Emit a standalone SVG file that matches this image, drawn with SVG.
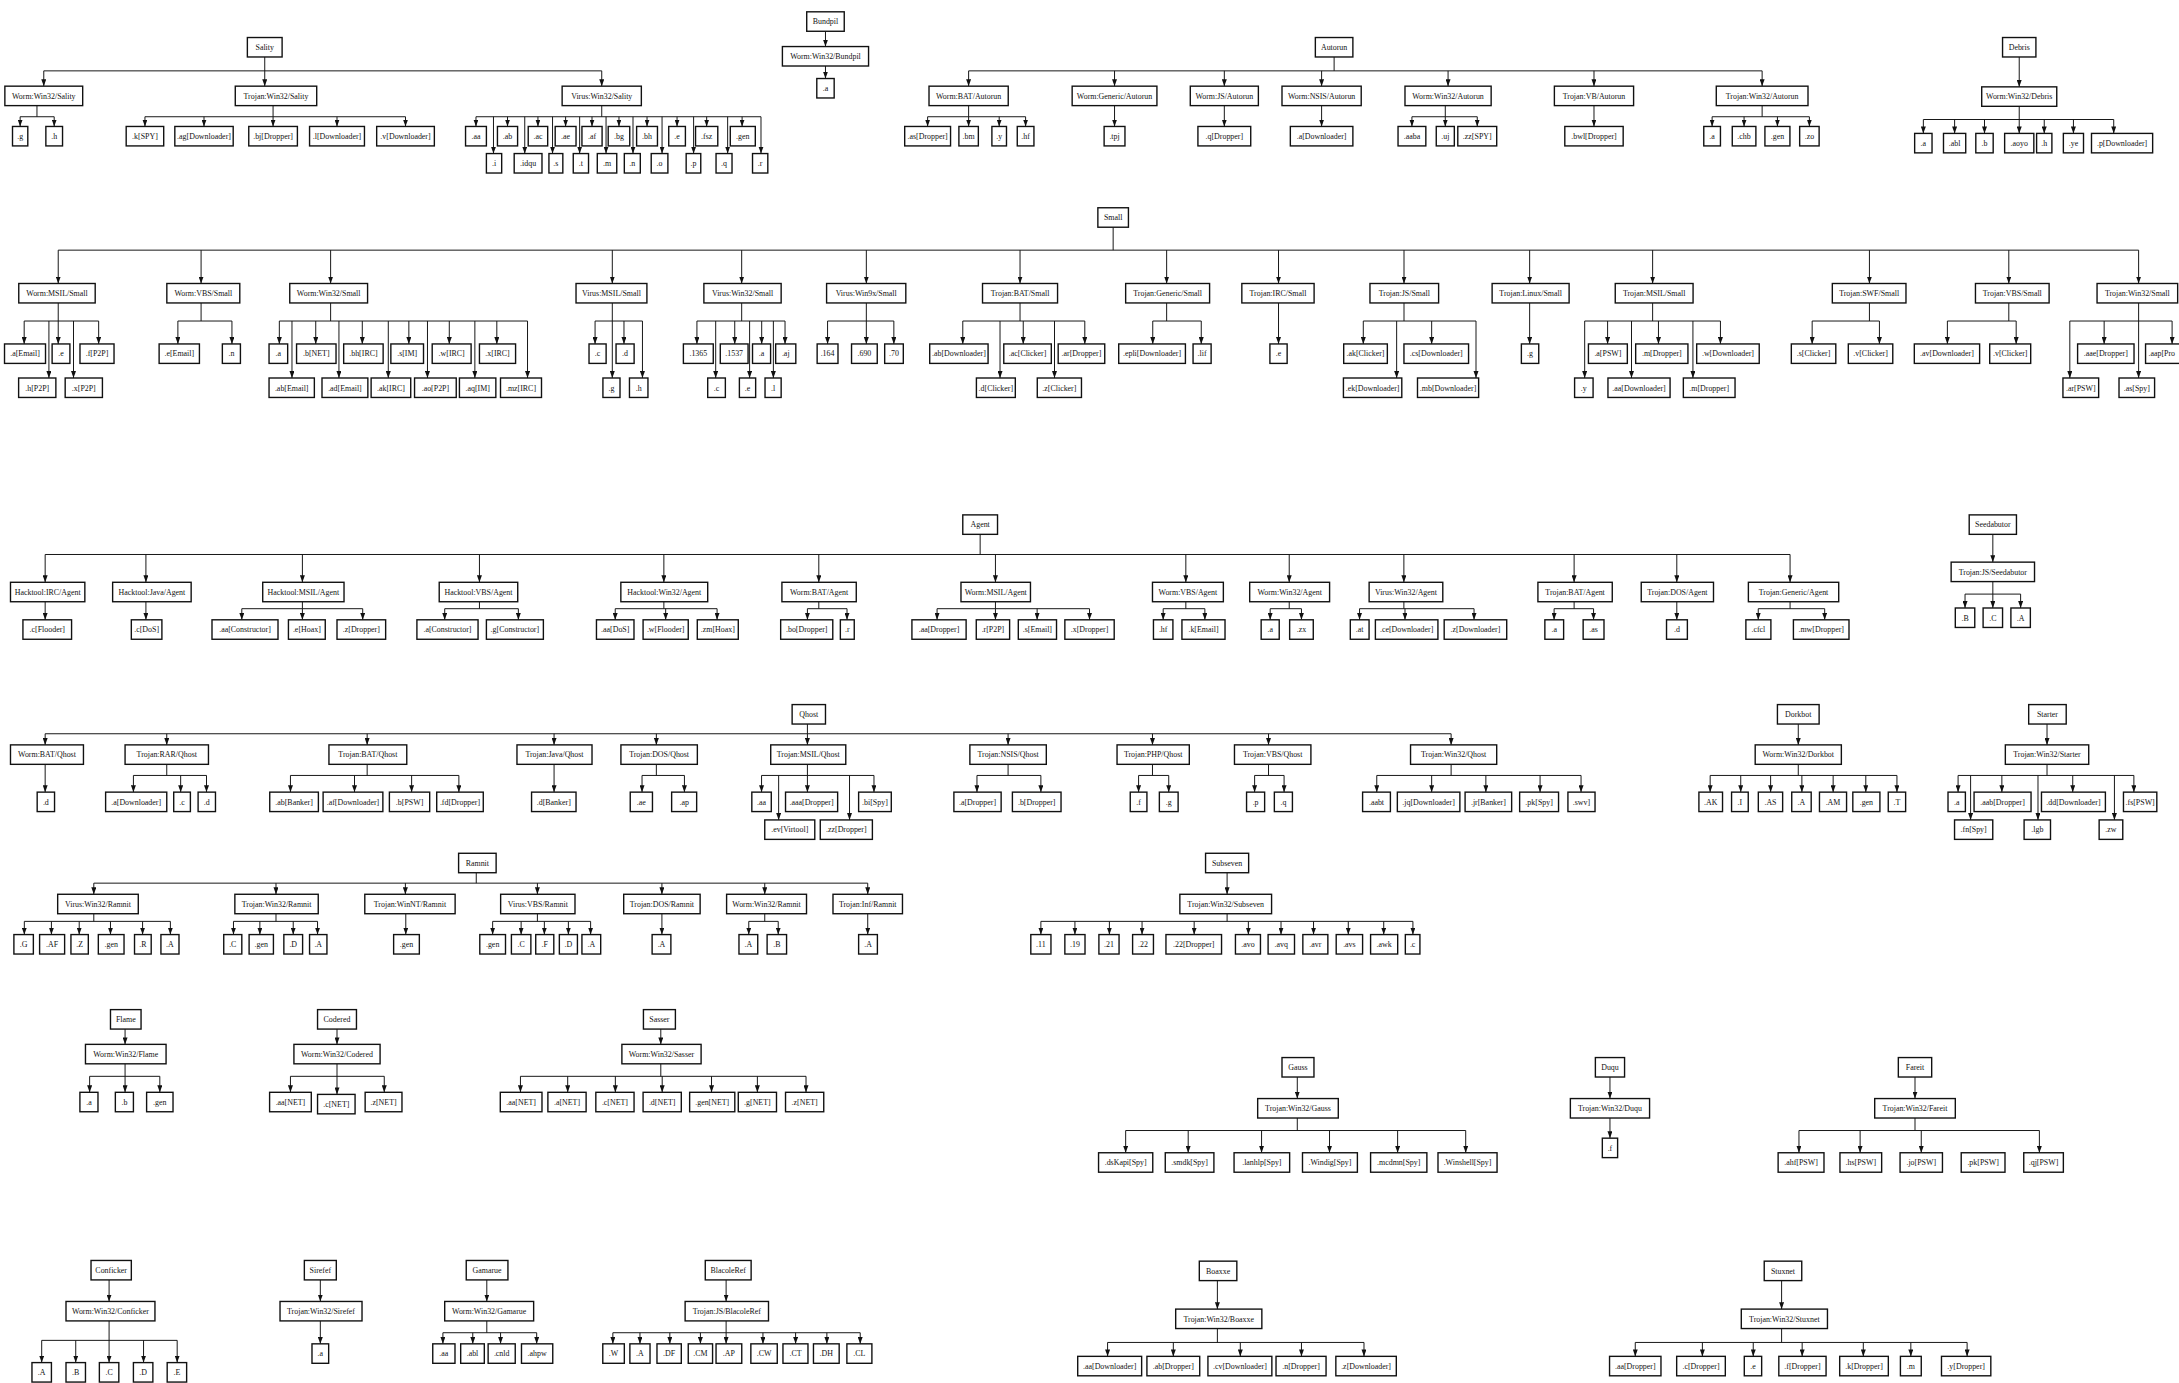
<svg xmlns="http://www.w3.org/2000/svg" width="2179" height="1383" viewBox="0 0 2179 1383">
<defs>
<marker id="ah" viewBox="0 0 10 7.2" refX="10" refY="3.6" markerWidth="5" markerHeight="3.6" orient="auto" markerUnits="userSpaceOnUse"><path d="M0,0L10,3.6L0,7.2z" fill="#111"/></marker>
<style>
.n rect{fill:#fff;stroke:#111;stroke-width:1}
.n text{font-family:"Liberation Serif","DejaVu Serif",serif;font-size:5.7px;fill:#111;text-anchor:middle}
#connectors path{fill:none;stroke:#111;stroke-width:0.7}
#connectors path.a{marker-end:url(#ah)}
</style>
</defs>
<rect width="2179" height="1383" fill="#fff"/>
<g transform="scale(1.3897)">
<g id="connectors">
<!-- Sality -->
<path d="M31.5,51H433"/><path class="a" d="M190.5,41V62"/><path class="a" d="M31.5,51V62"/><path class="a" d="M433,51V62"/>
<path d="M26.6,76V84M14.5,84H39"/><path class="a" d="M14.5,84V91"/><path class="a" d="M39,84V91"/>
<path d="M104.3,84H291.8"/><path class="a" d="M196.5,76V91"/><path class="a" d="M104.3,84V91"/><path class="a" d="M146.8,84V91"/><path class="a" d="M242.5,84V91"/><path class="a" d="M291.8,84V91"/>
<path d="M433,76V84M342.5,84H547.6"/>
<path class="a" d="M342.5,84V91"/><path class="a" d="M365.2,84V91"/><path class="a" d="M387.1,84V91"/><path class="a" d="M407,84V91"/><path class="a" d="M426,84V91"/><path class="a" d="M445.4,84V91"/><path class="a" d="M465.6,84V91"/><path class="a" d="M487.2,84V91"/><path class="a" d="M508.5,84V91"/><path class="a" d="M534,84V91"/>
<path class="a" d="M355.1,84V110.5"/><path class="a" d="M377.6,84V110.5"/><path class="a" d="M397.6,84V110.5"/><path class="a" d="M417.1,84V110.5"/><path class="a" d="M436.1,84V110.5"/><path class="a" d="M455.5,84V110.5"/><path class="a" d="M476.4,84V110.5"/><path class="a" d="M499.1,84V110.5"/><path class="a" d="M523.6,84V110.5"/><path class="a" d="M547.6,84V110.5"/>
<!-- Bundpil -->
<path class="a" d="M594,22.5V33.5"/><path class="a" d="M594,47.5V56.5"/>
<!-- Autorun -->
<path d="M960,41V51M697,51H1268"/>
<path class="a" d="M697,51V62"/><path class="a" d="M802,51V62"/><path class="a" d="M881,51V62"/><path class="a" d="M951,51V62"/><path class="a" d="M1042,51V62"/><path class="a" d="M1147,51V62"/><path class="a" d="M1268,51V62"/>
<path d="M697,76V84M667.5,84H738"/><path class="a" d="M667.5,84V91"/><path class="a" d="M697,84V91"/><path class="a" d="M719,84V91"/><path class="a" d="M738,84V91"/>
<path class="a" d="M802,76V91"/><path class="a" d="M881,76V91"/><path class="a" d="M951,76V91"/>
<path d="M1040,76V84M1016,84H1063"/><path class="a" d="M1016,84V91"/><path class="a" d="M1040,84V91"/><path class="a" d="M1063,84V91"/>
<path class="a" d="M1147,76V91"/>
<path d="M1268,76V84M1232,84H1302"/><path class="a" d="M1232,84V91"/><path class="a" d="M1255,84V91"/><path class="a" d="M1279,84V91"/><path class="a" d="M1302,84V91"/>
<!-- Debris -->
<path class="a" d="M1453,41V62.5"/>
<path d="M1453,76.5V86M1384,86H1521"/><path class="a" d="M1384,86V96"/><path class="a" d="M1406.5,86V96"/><path class="a" d="M1428,86V96"/><path class="a" d="M1453,86V96"/><path class="a" d="M1471,86V96"/><path class="a" d="M1492,86V96"/><path class="a" d="M1521,86V96"/>
<!-- Small -->
<path d="M801,163.5V180M41.9,180H1538.9"/>
<path class="a" d="M41.9,180V204"/><path class="a" d="M144.7,180V204"/><path class="a" d="M237.9,180V204"/><path class="a" d="M440.6,180V204"/><path class="a" d="M533.7,180V204"/><path class="a" d="M623.4,180V204"/><path class="a" d="M734,180V204"/><path class="a" d="M839.5,180V204"/><path class="a" d="M920,180V204"/><path class="a" d="M1010.3,180V204"/><path class="a" d="M1100.7,180V204"/><path class="a" d="M1189.2,180V204"/><path class="a" d="M1345.2,180V204"/><path class="a" d="M1445.5,180V204"/><path class="a" d="M1538.9,180V204"/>
<path d="M41.9,218V231M17.4,231H71"/><path class="a" d="M17.4,231V247.5"/><path class="a" d="M41.9,231V247.5"/><path class="a" d="M71,231V247.5"/><path class="a" d="M35.2,231V272"/><path class="a" d="M52.9,231V272"/>
<path d="M144.7,218V231M128,231H166.9"/><path class="a" d="M128,231V247.5"/><path class="a" d="M166.9,231V247.5"/>
<path d="M237.9,218V231M201,231H379.6"/><path class="a" d="M201,231V247.5"/><path class="a" d="M227.2,231V247.5"/><path class="a" d="M260.7,231V247.5"/><path class="a" d="M294.2,231V247.5"/><path class="a" d="M323.3,231V247.5"/><path class="a" d="M357.5,231V247.5"/><path class="a" d="M210.1,231V272"/><path class="a" d="M243.9,231V272"/><path class="a" d="M279.4,231V272"/><path class="a" d="M307.6,231V272"/><path class="a" d="M341.7,231V272"/><path class="a" d="M379.6,231V272"/>
<path d="M440.6,218V231M428.2,231H462.3"/><path class="a" d="M428.2,231V247.5"/><path class="a" d="M449,231V247.5"/><path class="a" d="M440.6,231V272"/><path class="a" d="M462.3,231V272"/>
<path d="M533.7,218V231M501.5,231H564.9"/><path class="a" d="M501.5,231V247.5"/><path class="a" d="M528.7,231V247.5"/><path class="a" d="M548.1,231V247.5"/><path class="a" d="M564.9,231V247.5"/><path class="a" d="M515,231V272"/><path class="a" d="M539.4,231V272"/><path class="a" d="M556.5,231V272"/>
<path d="M623.4,218V231M595.5,231H643.2"/><path class="a" d="M595.5,231V247.5"/><path class="a" d="M623.4,231V247.5"/><path class="a" d="M643.2,231V247.5"/>
<path d="M734,218V231M692.8,231H780.6"/><path class="a" d="M692.8,231V247.5"/><path class="a" d="M736.3,231V247.5"/><path class="a" d="M780.6,231V247.5"/><path class="a" d="M719.6,231V272"/><path class="a" d="M758.8,231V272"/>
<path d="M839.5,218V231M829.5,231H864.4"/><path class="a" d="M829.5,231V247.5"/><path class="a" d="M864.4,231V247.5"/>
<path class="a" d="M920,218V247.5"/>
<path d="M1010.3,218V231M981,231H1062.1"/><path class="a" d="M981,231V247.5"/><path class="a" d="M1030.2,231V247.5"/><path class="a" d="M1005,231V272"/><path class="a" d="M1062.1,231V272"/>
<path class="a" d="M1100.7,218V247.5"/>
<path d="M1189.2,218V231M1140.3,231H1238"/><path class="a" d="M1156.8,231V247.5"/><path class="a" d="M1193.4,231V247.5"/><path class="a" d="M1238,231V247.5"/><path class="a" d="M1140.3,231V272"/><path class="a" d="M1174,231V272"/><path class="a" d="M1218.2,231V272"/>
<path d="M1345.2,218V231M1304,231H1352.4"/><path class="a" d="M1304,231V247.5"/><path class="a" d="M1352.4,231V247.5"/>
<path d="M1445.5,218V231M1401.3,231H1450.8"/><path class="a" d="M1401.3,231V247.5"/><path class="a" d="M1450.8,231V247.5"/>
<path d="M1538.9,218V231M1489.4,231H1563"/><path class="a" d="M1514.1,231V247.5"/><path class="a" d="M1563,231V247.5"/><path class="a" d="M1489.4,231V272"/><path class="a" d="M1538.9,231V272"/>
<!-- Agent -->
<path d="M705.3,384.5V399M32.5,399H1288.1"/>
<path class="a" d="M32.5,399V419"/><path class="a" d="M105,399V419"/><path class="a" d="M217.6,399V419"/><path class="a" d="M345,399V419"/><path class="a" d="M477.7,399V419"/><path class="a" d="M589.2,399V419"/><path class="a" d="M716.3,399V419"/><path class="a" d="M853.3,399V419"/><path class="a" d="M927.7,399V419"/><path class="a" d="M1010.2,399V419"/><path class="a" d="M1132.7,399V419"/><path class="a" d="M1206.6,399V419"/><path class="a" d="M1288.1,399V419"/>
<path class="a" d="M32.5,433V446"/><path class="a" d="M105,433V446"/>
<path d="M217.6,433V438M174,438H261"/><path class="a" d="M174,438V446"/><path class="a" d="M217.6,438V446"/><path class="a" d="M261,438V446"/>
<path d="M345,433V438M320,438H373"/><path class="a" d="M320,438V446"/><path class="a" d="M373,438V446"/>
<path d="M477.7,433V438M442.7,438H516"/><path class="a" d="M442.7,438V446"/><path class="a" d="M479,438V446"/><path class="a" d="M516,438V446"/>
<path d="M589.2,433V438M581,438H609.5"/><path class="a" d="M581,438V446"/><path class="a" d="M609.5,438V446"/>
<path d="M716.3,433V438M674.3,438H784"/><path class="a" d="M674.3,438V446"/><path class="a" d="M716.3,438V446"/><path class="a" d="M746.3,438V446"/><path class="a" d="M784,438V446"/>
<path d="M853.3,433V438M837,438H867"/><path class="a" d="M837,438V446"/><path class="a" d="M867,438V446"/>
<path d="M927.7,433V438M914,438H936.5"/><path class="a" d="M914,438V446"/><path class="a" d="M936.5,438V446"/>
<path d="M1010.2,433V438M978.3,438H1060.7"/><path class="a" d="M978.3,438V446"/><path class="a" d="M1011,438V446"/><path class="a" d="M1060.7,438V446"/>
<path d="M1132.7,433V438M1118.3,438H1146.7"/><path class="a" d="M1118.3,438V446"/><path class="a" d="M1146.7,438V446"/>
<path class="a" d="M1206.6,433V446"/>
<path d="M1288.1,433V438M1265.2,438H1313"/><path class="a" d="M1265.2,438V446"/><path class="a" d="M1313,438V446"/>
<!-- Seedabutor -->
<path class="a" d="M1434,384.5V404.5"/>
<path d="M1434,418.5V427.5M1414,427.5H1454"/><path class="a" d="M1414,427.5V437.5"/><path class="a" d="M1434,427.5V437.5"/><path class="a" d="M1454,427.5V437.5"/>
<!-- Qhost -->
<path d="M581,521V528M32.5,528H1044.2"/>
<path class="a" d="M32.5,528V536"/><path class="a" d="M120,528V536"/><path class="a" d="M264.2,528V536"/><path class="a" d="M398.7,528V536"/><path class="a" d="M472.3,528V536"/><path class="a" d="M581,528V536"/><path class="a" d="M725.4,528V536"/><path class="a" d="M829.3,528V536"/><path class="a" d="M912.8,528V536"/><path class="a" d="M1044.2,528V536"/>
<path class="a" d="M32.5,550V570"/>
<path d="M120,550V558M96,558H148.6"/><path class="a" d="M96,558V570"/><path class="a" d="M130,558V570"/><path class="a" d="M148.6,558V570"/>
<path d="M264.2,550V558M209,558H330.2"/><path class="a" d="M209,558V570"/><path class="a" d="M255.1,558V570"/><path class="a" d="M296.2,558V570"/><path class="a" d="M330.2,558V570"/>
<path class="a" d="M398.7,550V570"/>
<path d="M472.3,550V558M462,558H492.5"/><path class="a" d="M462,558V570"/><path class="a" d="M492.5,558V570"/>
<path d="M581,550V558M548,558H628.9"/><path class="a" d="M548,558V570"/><path class="a" d="M581,558V570"/><path class="a" d="M628.9,558V570"/><path class="a" d="M560.3,558V590"/><path class="a" d="M611.3,558V590"/>
<path d="M725.4,550V558M703,558H749"/><path class="a" d="M703,558V570"/><path class="a" d="M749,558V570"/>
<path d="M829.3,550V558M819.3,558H841"/><path class="a" d="M819.3,558V570"/><path class="a" d="M841,558V570"/>
<path d="M912.8,550V558M902.8,558H924"/><path class="a" d="M902.8,558V570"/><path class="a" d="M924,558V570"/>
<path d="M1044.2,550V558M990.7,558H1137.7"/><path class="a" d="M990.7,558V570"/><path class="a" d="M1030.2,558V570"/><path class="a" d="M1069.2,558V570"/><path class="a" d="M1108.2,558V570"/><path class="a" d="M1137.7,558V570"/>
<!-- Dorkbot -->
<path class="a" d="M1294,521V536"/>
<path d="M1294,550V558M1230.6,558H1365"/><path class="a" d="M1230.6,558V570"/><path class="a" d="M1252.6,558V570"/><path class="a" d="M1274.1,558V570"/><path class="a" d="M1296.6,558V570"/><path class="a" d="M1319.1,558V570"/><path class="a" d="M1342.6,558V570"/><path class="a" d="M1365,558V570"/>
<!-- Starter -->
<path class="a" d="M1473,521V536"/>
<path d="M1473,550V558M1409,558H1535.5"/><path class="a" d="M1409,558V570"/><path class="a" d="M1440.5,558V570"/><path class="a" d="M1491.5,558V570"/><path class="a" d="M1535.5,558V570"/><path class="a" d="M1418,558V590"/><path class="a" d="M1466.5,558V590"/><path class="a" d="M1521.5,558V590"/>
<!-- Ramnit -->
<path d="M342.7,628V635.5M67.5,635.5H624.4"/>
<path class="a" d="M67.5,635.5V643.5"/><path class="a" d="M198.6,635.5V643.5"/><path class="a" d="M291.7,635.5V643.5"/><path class="a" d="M386.7,635.5V643.5"/><path class="a" d="M476.3,635.5V643.5"/><path class="a" d="M550.3,635.5V643.5"/><path class="a" d="M624.4,635.5V643.5"/>
<path d="M67.5,657.5V663M17.5,663H122.6"/><path class="a" d="M17.5,663V672.5"/><path class="a" d="M37,663V672.5"/><path class="a" d="M57,663V672.5"/><path class="a" d="M79.5,663V672.5"/><path class="a" d="M102.6,663V672.5"/><path class="a" d="M122.6,663V672.5"/>
<path d="M198.6,657.5V663M168,663H228.5"/><path class="a" d="M168,663V672.5"/><path class="a" d="M187,663V672.5"/><path class="a" d="M211,663V672.5"/><path class="a" d="M228.5,663V672.5"/>
<path class="a" d="M292,657.5V672.5"/>
<path d="M386.7,657.5V663M354.5,663H425"/><path class="a" d="M354.5,663V672.5"/><path class="a" d="M375,663V672.5"/><path class="a" d="M391.7,663V672.5"/><path class="a" d="M409,663V672.5"/><path class="a" d="M425,663V672.5"/>
<path class="a" d="M476.3,657.5V672.5"/>
<path d="M550.3,657.5V663M538.8,663H560"/><path class="a" d="M538.8,663V672.5"/><path class="a" d="M560,663V672.5"/>
<path class="a" d="M624.4,657.5V672.5"/>
<!-- Subseven -->
<path class="a" d="M883,628V643.5"/>
<path d="M883,657.5V663M749,663H1016.7"/><path class="a" d="M749,663V672.5"/><path class="a" d="M773.5,663V672.5"/><path class="a" d="M798.3,663V672.5"/><path class="a" d="M821.8,663V672.5"/><path class="a" d="M859.3,663V672.5"/><path class="a" d="M898.3,663V672.5"/><path class="a" d="M921.8,663V672.5"/><path class="a" d="M945.2,663V672.5"/><path class="a" d="M970.2,663V672.5"/><path class="a" d="M995.7,663V672.5"/><path class="a" d="M1016.7,663V672.5"/>
<!-- Flame -->
<path class="a" d="M90,740.5V751.5"/>
<path d="M90,765.5V774.5M64.5,774.5H115"/><path class="a" d="M64.5,774.5V786"/><path class="a" d="M90,774.5V786"/><path class="a" d="M115,774.5V786"/>
<!-- Codered -->
<path class="a" d="M242.5,740.5V751.5"/>
<path d="M242.5,765.5V774.5M209,774.5H276.5"/><path class="a" d="M209,774.5V786"/><path class="a" d="M242.5,774.5V787.5"/><path class="a" d="M276.5,774.5V786"/>
<!-- Sasser -->
<path class="a" d="M475.5,740.5V751.5"/>
<path d="M475.5,765.5V774.5M374.5,774.5H580"/><path class="a" d="M374.5,774.5V786"/><path class="a" d="M408.5,774.5V786"/><path class="a" d="M442.8,774.5V786"/><path class="a" d="M476.5,774.5V786"/><path class="a" d="M512,774.5V786"/><path class="a" d="M545,774.5V786"/><path class="a" d="M580,774.5V786"/>
<!-- Gauss -->
<path class="a" d="M933.5,775V790.5"/>
<path d="M933.5,804.5V813.5M810,813.5H1054.7"/><path class="a" d="M810,813.5V829.5"/><path class="a" d="M855,813.5V829.5"/><path class="a" d="M907.8,813.5V829.5"/><path class="a" d="M956.7,813.5V829.5"/><path class="a" d="M1005.7,813.5V829.5"/><path class="a" d="M1054.7,813.5V829.5"/>
<!-- Duqu -->
<path class="a" d="M1158.5,775V790.5"/><path class="a" d="M1158.5,804.5V819"/>
<!-- Fareit -->
<path class="a" d="M1378,775V790.5"/>
<path d="M1378,804.5V813.5M1294.5,813.5H1467.5"/><path class="a" d="M1294.5,813.5V829.5"/><path class="a" d="M1338.5,813.5V829.5"/><path class="a" d="M1382.5,813.5V829.5"/><path class="a" d="M1467.5,813.5V829.5"/>
<!-- Conficker -->
<path class="a" d="M78.5,921V936.5"/>
<path d="M78.5,950.5V964.5M30,964.5H127.5"/><path class="a" d="M30,964.5V980.5"/><path class="a" d="M54.5,964.5V980.5"/><path class="a" d="M78.5,964.5V980.5"/><path class="a" d="M103.3,964.5V980.5"/><path class="a" d="M127.5,964.5V980.5"/>
<!-- Sirefef -->
<path class="a" d="M230.5,921V936.5"/><path class="a" d="M230.5,950.5V967"/>
<!-- Gamarue -->
<path class="a" d="M350.3,921V936.5"/>
<path d="M350.3,950.5V959M318.7,959H386.2"/><path class="a" d="M318.7,959V967"/><path class="a" d="M340.2,959V967"/><path class="a" d="M360.2,959V967"/><path class="a" d="M386.2,959V967"/>
<!-- BlacoleRef -->
<path class="a" d="M522.5,921V936.5"/>
<path d="M522.5,950.5V959M441,959H619"/><path class="a" d="M441,959V967"/><path class="a" d="M460.5,959V967"/><path class="a" d="M482,959V967"/><path class="a" d="M504,959V967"/><path class="a" d="M522.5,959V967"/><path class="a" d="M549,959V967"/><path class="a" d="M572.5,959V967"/><path class="a" d="M595,959V967"/><path class="a" d="M619,959V967"/>
<!-- Boaxxe -->
<path class="a" d="M876,921.5V942"/>
<path d="M876,956V966M797,966H981.5"/><path class="a" d="M797,966V976"/><path class="a" d="M844.3,966V976"/><path class="a" d="M892.5,966V976"/><path class="a" d="M936.5,966V976"/><path class="a" d="M981.5,966V976"/>
<!-- Stuxnet -->
<path class="a" d="M1282,921.5V942"/>
<path d="M1282,956V966M1176.7,966H1415.5"/><path class="a" d="M1176.7,966V976"/><path class="a" d="M1225,966V976"/><path class="a" d="M1261.6,966V976"/><path class="a" d="M1296.8,966V976"/><path class="a" d="M1340.8,966V976"/><path class="a" d="M1375,966V976"/><path class="a" d="M1415.5,966V976"/>
</g>

<!-- ===== Sality ===== -->
<g id="sality" class="n"><rect x="178" y="27" width="25" height="14"/><text x="190.5" y="36">Sality</text></g>
<g id="worm-win32-sality" class="n"><rect x="3.5" y="62" width="56" height="14"/><text x="31.5" y="71">Worm:Win32/Sality</text></g>
<g id="trojan-win32-sality" class="n"><rect x="169.3" y="62" width="58.6" height="14"/><text x="198.6" y="71">Trojan:Win32/Sality</text></g>
<g id="virus-win32-sality" class="n"><rect x="404.5" y="62" width="57" height="14"/><text x="433" y="71">Virus:Win32/Sality</text></g>
<g id="sal-w-g" class="n"><rect x="9" y="91" width="11" height="14"/><text x="14.5" y="100">.g</text></g>
<g id="sal-w-h" class="n"><rect x="33" y="91" width="12" height="14"/><text x="39" y="100">.h</text></g>
<g id="sal-t-k" class="n"><rect x="90.8" y="91" width="27" height="14"/><text x="104.3" y="100">.k[SPY]</text></g>
<g id="sal-t-ag" class="n"><rect x="125.8" y="91" width="42" height="14"/><text x="146.8" y="100">.ag[Downloader]</text></g>
<g id="sal-t-bj" class="n"><rect x="179" y="91" width="35" height="14"/><text x="196.5" y="100">.bj[Dropper]</text></g>
<g id="sal-t-l" class="n"><rect x="222.75" y="91" width="39.5" height="14"/><text x="242.5" y="100">.l[Downloader]</text></g>
<g id="sal-t-v" class="n"><rect x="271.05" y="91" width="41.5" height="14"/><text x="291.8" y="100">.v[Downloader]</text></g>
<g id="sal-v-aa" class="n"><rect x="335" y="91" width="15" height="14"/><text x="342.5" y="100">.aa</text></g>
<g id="sal-v-ab" class="n"><rect x="357.95" y="91" width="14.5" height="14"/><text x="365.2" y="100">.ab</text></g>
<g id="sal-v-ac" class="n"><rect x="380.1" y="91" width="14" height="14"/><text x="387.1" y="100">.ac</text></g>
<g id="sal-v-ae" class="n"><rect x="399.5" y="91" width="15" height="14"/><text x="407" y="100">.ae</text></g>
<g id="sal-v-af" class="n"><rect x="418.75" y="91" width="14.5" height="14"/><text x="426" y="100">.af</text></g>
<g id="sal-v-bg" class="n"><rect x="437.65" y="91" width="15.5" height="14"/><text x="445.4" y="100">.bg</text></g>
<g id="sal-v-bh" class="n"><rect x="458.1" y="91" width="15" height="14"/><text x="465.6" y="100">.bh</text></g>
<g id="sal-v-e" class="n"><rect x="481.2" y="91" width="12" height="14"/><text x="487.2" y="100">.e</text></g>
<g id="sal-v-fsz" class="n"><rect x="500.5" y="91" width="16" height="14"/><text x="508.5" y="100">.fsz</text></g>
<g id="sal-v-gen" class="n"><rect x="525.5" y="91" width="18" height="14"/><text x="534.5" y="100">.gen</text></g>
<g id="sal-v-i" class="n"><rect x="350" y="110.5" width="11" height="14"/><text x="355.5" y="119.5">.i</text></g>
<g id="sal-v-idqu" class="n"><rect x="370" y="110.5" width="20" height="14"/><text x="380" y="119.5">.idqu</text></g>
<g id="sal-v-s" class="n"><rect x="395" y="110.5" width="10" height="14"/><text x="400" y="119.5">.s</text></g>
<g id="sal-v-t" class="n"><rect x="412.5" y="110.5" width="11" height="14"/><text x="418" y="119.5">.t</text></g>
<g id="sal-v-m" class="n"><rect x="429.8" y="110.5" width="14" height="14"/><text x="436.8" y="119.5">.m</text></g>
<g id="sal-v-n" class="n"><rect x="449.25" y="110.5" width="11.5" height="14"/><text x="455" y="119.5">.n</text></g>
<g id="sal-v-o" class="n"><rect x="468.6" y="110.5" width="12" height="14"/><text x="474.6" y="119.5">.o</text></g>
<g id="sal-v-p" class="n"><rect x="493.75" y="110.5" width="10.5" height="14"/><text x="499" y="119.5">.p</text></g>
<g id="sal-v-q" class="n"><rect x="515.25" y="110.5" width="11.5" height="14"/><text x="521" y="119.5">.q</text></g>
<g id="sal-v-r" class="n"><rect x="541.5" y="110.5" width="11" height="14"/><text x="547" y="119.5">.r</text></g>

<!-- ===== Bundpil ===== -->
<g id="bundpil" class="n"><rect x="580.5" y="8.5" width="27" height="14"/><text x="594" y="17.5">Bundpil</text></g>
<g id="worm-win32-bundpil" class="n"><rect x="563" y="33.5" width="62" height="14"/><text x="594" y="42.5">Worm:Win32/Bundpil</text></g>
<g id="bun-a" class="n"><rect x="587.75" y="56.5" width="12.5" height="14"/><text x="594" y="65.5">.a</text></g>

<!-- ===== Autorun ===== -->
<g id="autorun" class="n"><rect x="946.5" y="27" width="27" height="14"/><text x="960" y="36">Autorun</text></g>
<g id="worm-bat-autorun" class="n"><rect x="668.5" y="62" width="57" height="14"/><text x="697" y="71">Worm:BAT/Autorun</text></g>
<g id="worm-generic-autorun" class="n"><rect x="771.5" y="62" width="61" height="14"/><text x="802" y="71">Worm:Generic/Autorun</text></g>
<g id="worm-js-autorun" class="n"><rect x="856.5" y="62" width="49" height="14"/><text x="881" y="71">Worm:JS/Autorun</text></g>
<g id="worm-nsis-autorun" class="n"><rect x="922.5" y="62" width="57" height="14"/><text x="951" y="71">Worm:NSIS/Autorun</text></g>
<g id="worm-win32-autorun" class="n"><rect x="1011" y="62" width="62" height="14"/><text x="1042" y="71">Worm:Win32/Autorun</text></g>
<g id="trojan-vb-autorun" class="n"><rect x="1118.5" y="62" width="57" height="14"/><text x="1147" y="71">Trojan:VB/Autorun</text></g>
<g id="trojan-win32-autorun" class="n"><rect x="1235" y="62" width="66" height="14"/><text x="1268" y="71">Trojan:Win32/Autorun</text></g>
<g id="aut-bat-as" class="n"><rect x="651" y="91" width="33" height="14"/><text x="667.5" y="100">.as[Dropper]</text></g>
<g id="aut-bat-bm" class="n"><rect x="690" y="91" width="14" height="14"/><text x="697" y="100">.bm</text></g>
<g id="aut-bat-y" class="n"><rect x="713.75" y="91" width="10.5" height="14"/><text x="719" y="100">.y</text></g>
<g id="aut-bat-hf" class="n"><rect x="732" y="91" width="12" height="14"/><text x="738" y="100">.hf</text></g>
<g id="aut-gen-tpj" class="n"><rect x="794.5" y="91" width="15" height="14"/><text x="802" y="100">.tpj</text></g>
<g id="aut-js-q" class="n"><rect x="862" y="91" width="38" height="14"/><text x="881" y="100">.q[Dropper]</text></g>
<g id="aut-nsis-a" class="n"><rect x="928.5" y="91" width="45" height="14"/><text x="951" y="100">.a[Downloader]</text></g>
<g id="aut-w32-aaba" class="n"><rect x="1006" y="91" width="20" height="14"/><text x="1016" y="100">.aaba</text></g>
<g id="aut-w32-uj" class="n"><rect x="1033.5" y="91" width="13" height="14"/><text x="1040" y="100">.uj</text></g>
<g id="aut-w32-zz" class="n"><rect x="1049" y="91" width="28" height="14"/><text x="1063" y="100">.zz[SPY]</text></g>
<g id="aut-vb-bwl" class="n"><rect x="1126" y="91" width="42" height="14"/><text x="1147" y="100">.bwl[Dropper]</text></g>
<g id="aut-tw32-a" class="n"><rect x="1226" y="91" width="12" height="14"/><text x="1232" y="100">.a</text></g>
<g id="aut-tw32-chb" class="n"><rect x="1246.5" y="91" width="17" height="14"/><text x="1255" y="100">.chb</text></g>
<g id="aut-tw32-gen" class="n"><rect x="1270" y="91" width="18" height="14"/><text x="1279" y="100">.gen</text></g>
<g id="aut-tw32-zo" class="n"><rect x="1295" y="91" width="14" height="14"/><text x="1302" y="100">.zo</text></g>

<!-- ===== Debris ===== -->
<g id="debris" class="n"><rect x="1441" y="27" width="24" height="14"/><text x="1453" y="36">Debris</text></g>
<g id="worm-win32-debris" class="n"><rect x="1426" y="62.5" width="54" height="14"/><text x="1453" y="71.5">Worm:Win32/Debris</text></g>
<g id="deb-a" class="n"><rect x="1377.75" y="96" width="12.5" height="14"/><text x="1384" y="105">.a</text></g>
<g id="deb-abl" class="n"><rect x="1398.5" y="96" width="16" height="14"/><text x="1406.5" y="105">.abl</text></g>
<g id="deb-b" class="n"><rect x="1421.75" y="96" width="12.5" height="14"/><text x="1428" y="105">.b</text></g>
<g id="deb-aoyo" class="n"><rect x="1442.5" y="96" width="21" height="14"/><text x="1453" y="105">.aoyo</text></g>
<g id="deb-h" class="n"><rect x="1465.5" y="96" width="11" height="14"/><text x="1471" y="105">.h</text></g>
<g id="deb-ye" class="n"><rect x="1484.75" y="96" width="14.5" height="14"/><text x="1492" y="105">.ye</text></g>
<g id="deb-p" class="n"><rect x="1505" y="96" width="44" height="14"/><text x="1527" y="105">.p[Downloader]</text></g>

<!-- ===== Small ===== -->
<g id="small" class="n"><rect x="790" y="149.5" width="22" height="14"/><text x="801" y="158.5">Small</text></g>
<g id="worm-msil-small" class="n"><rect x="13.5" y="204" width="55" height="14"/><text x="41" y="213">Worm:MSIL/Small</text></g>
<g id="worm-vbs-small" class="n"><rect x="120.05" y="204" width="52.5" height="14"/><text x="146.3" y="213">Worm:VBS/Small</text></g>
<g id="worm-win32-small" class="n"><rect x="208.5" y="204" width="56" height="14"/><text x="236.5" y="213">Worm:Win32/Small</text></g>
<g id="virus-msil-small" class="n"><rect x="414.5" y="204" width="51" height="14"/><text x="440" y="213">Virus:MSIL/Small</text></g>
<g id="virus-win32-small" class="n"><rect x="506.5" y="204" width="55.6" height="14"/><text x="534.3" y="213">Virus:Win32/Small</text></g>
<g id="virus-win9x-small" class="n"><rect x="594.8" y="204" width="57" height="14"/><text x="623.3" y="213">Virus:Win9x/Small</text></g>
<g id="trojan-bat-small" class="n"><rect x="707" y="204" width="54" height="14"/><text x="734" y="213">Trojan:BAT/Small</text></g>
<g id="trojan-generic-small" class="n"><rect x="810" y="204" width="60.4" height="14"/><text x="840.2" y="213">Trojan:Generic/Small</text></g>
<g id="trojan-irc-small" class="n"><rect x="893.6" y="204" width="52" height="14"/><text x="919.6" y="213">Trojan:IRC/Small</text></g>
<g id="trojan-js-small" class="n"><rect x="985.8" y="204" width="49.4" height="14"/><text x="1010.5" y="213">Trojan:JS/Small</text></g>
<g id="trojan-linux-small" class="n"><rect x="1073.7" y="204" width="55.4" height="14"/><text x="1101.4" y="213">Trojan:Linux/Small</text></g>
<g id="trojan-msil-small" class="n"><rect x="1162.3" y="204" width="56" height="14"/><text x="1190.3" y="213">Trojan:MSIL/Small</text></g>
<g id="trojan-swf-small" class="n"><rect x="1318.5" y="204" width="53" height="14"/><text x="1345" y="213">Trojan:SWF/Small</text></g>
<g id="trojan-vbs-small" class="n"><rect x="1421.5" y="204" width="53" height="14"/><text x="1448" y="213">Trojan:VBS/Small</text></g>
<g id="trojan-win32-small" class="n"><rect x="1509" y="204" width="58" height="14"/><text x="1538" y="213">Trojan:Win32/Small</text></g>
<g id="sm-wm-a" class="n"><rect x="3.25" y="247.5" width="29.5" height="14"/><text x="18" y="256.5">.a[Email]</text></g>
<g id="sm-wm-e" class="n"><rect x="37.5" y="247.5" width="12.8" height="14"/><text x="43.9" y="256.5">.e</text></g>
<g id="sm-wm-f" class="n"><rect x="57.55" y="247.5" width="24.5" height="14"/><text x="69.8" y="256.5">.f[P2P]</text></g>
<g id="sm-wm-h" class="n"><rect x="13.4" y="272" width="26.8" height="14"/><text x="26.8" y="281">.h[P2P]</text></g>
<g id="sm-wm-x" class="n"><rect x="46.9" y="272" width="26.8" height="14"/><text x="60.3" y="281">.x[P2P]</text></g>
<g id="sm-wv-e" class="n"><rect x="114.5" y="247.5" width="29" height="14"/><text x="129" y="256.5">.e[Email]</text></g>
<g id="sm-wv-n" class="n"><rect x="160" y="247.5" width="13" height="14"/><text x="166.5" y="256.5">.n</text></g>
<g id="sm-ww-a" class="n"><rect x="193.6" y="247.5" width="13.4" height="14"/><text x="200.3" y="256.5">.a</text></g>
<g id="sm-ww-b" class="n"><rect x="213.4" y="247.5" width="28.4" height="14"/><text x="227.6" y="256.5">.b[NET]</text></g>
<g id="sm-ww-bh" class="n"><rect x="247.3" y="247.5" width="28.4" height="14"/><text x="261.5" y="256.5">.bh[IRC]</text></g>
<g id="sm-ww-s" class="n"><rect x="281.25" y="247.5" width="23.5" height="14"/><text x="293" y="256.5">.s[IM]</text></g>
<g id="sm-ww-w" class="n"><rect x="311" y="247.5" width="28" height="14"/><text x="325" y="256.5">.w[IRC]</text></g>
<g id="sm-ww-x" class="n"><rect x="345" y="247.5" width="26" height="14"/><text x="358" y="256.5">.x[IRC]</text></g>
<g id="sm-ww-ab" class="n"><rect x="193.6" y="272" width="32.6" height="14"/><text x="209.9" y="281">.ab[Email]</text></g>
<g id="sm-ww-ad" class="n"><rect x="231.7" y="272" width="33" height="14"/><text x="248.2" y="281">.ad[Email]</text></g>
<g id="sm-ww-ak" class="n"><rect x="267.05" y="272" width="28.5" height="14"/><text x="281.3" y="281">.ak[IRC]</text></g>
<g id="sm-ww-ao" class="n"><rect x="298.3" y="272" width="30" height="14"/><text x="313.3" y="281">.ao[P2P]</text></g>
<g id="sm-ww-aq" class="n"><rect x="330.6" y="272" width="26.2" height="14"/><text x="343.7" y="281">.aq[IM]</text></g>
<g id="sm-ww-mz" class="n"><rect x="360.15" y="272" width="29.5" height="14"/><text x="374.9" y="281">.mz[IRC]</text></g>
<g id="sm-vm-c" class="n"><rect x="423.85" y="247.5" width="12.3" height="14"/><text x="430" y="256.5">.c</text></g>
<g id="sm-vm-d" class="n"><rect x="443.3" y="247.5" width="13" height="14"/><text x="449.8" y="256.5">.d</text></g>
<g id="sm-vm-g" class="n"><rect x="433.85" y="272" width="12.3" height="14"/><text x="440" y="281">.g</text></g>
<g id="sm-vm-h" class="n"><rect x="452.95" y="272" width="13.3" height="14"/><text x="459.6" y="281">.h</text></g>
<g id="sm-vw-1365" class="n"><rect x="491.75" y="247.5" width="21.5" height="14"/><text x="502.5" y="256.5">.1365</text></g>
<g id="sm-vw-1537" class="n"><rect x="518.3" y="247.5" width="20" height="14"/><text x="528.3" y="256.5">.1537</text></g>
<g id="sm-vw-a" class="n"><rect x="541.5" y="247.5" width="13" height="14"/><text x="548" y="256.5">.a</text></g>
<g id="sm-vw-aj" class="n"><rect x="558.15" y="247.5" width="14.5" height="14"/><text x="565.4" y="256.5">.aj</text></g>
<g id="sm-vw-c" class="n"><rect x="509.25" y="272" width="12.7" height="14"/><text x="515.6" y="281">.c</text></g>
<g id="sm-vw-e" class="n"><rect x="532.05" y="272" width="11.7" height="14"/><text x="537.9" y="281">.e</text></g>
<g id="sm-vw-l" class="n"><rect x="550.5" y="272" width="11.6" height="14"/><text x="556.3" y="281">.l</text></g>
<g id="sm-v9-164" class="n"><rect x="588" y="247.5" width="15" height="14"/><text x="595.5" y="256.5">.164</text></g>
<g id="sm-v9-690" class="n"><rect x="612.75" y="247.5" width="18.5" height="14"/><text x="622" y="256.5">.690</text></g>
<g id="sm-v9-70" class="n"><rect x="636.6" y="247.5" width="13.4" height="14"/><text x="643.3" y="256.5">.70</text></g>
<g id="sm-tb-ab" class="n"><rect x="669" y="247.5" width="42" height="14"/><text x="690" y="256.5">.ab[Downloader]</text></g>
<g id="sm-tb-ac" class="n"><rect x="722.3" y="247.5" width="34.2" height="14"/><text x="739.4" y="256.5">.ac[Clicker]</text></g>
<g id="sm-tb-ar" class="n"><rect x="761.45" y="247.5" width="33.5" height="14"/><text x="778.2" y="256.5">.ar[Dropper]</text></g>
<g id="sm-tb-d" class="n"><rect x="702.6" y="272" width="28" height="14"/><text x="716.6" y="281">.d[Clicker]</text></g>
<g id="sm-tb-z" class="n"><rect x="746.4" y="272" width="31.8" height="14"/><text x="762.3" y="281">.z[Clicker]</text></g>
<g id="sm-tg-epli" class="n"><rect x="805" y="247.5" width="48" height="14"/><text x="829" y="256.5">.epli[Downloader]</text></g>
<g id="sm-tg-lif" class="n"><rect x="858.5" y="247.5" width="13" height="14"/><text x="865" y="256.5">.lif</text></g>
<g id="sm-ti-e" class="n"><rect x="913.8" y="247.5" width="12.4" height="14"/><text x="920" y="256.5">.e</text></g>
<g id="sm-tj-ak" class="n"><rect x="966.9" y="247.5" width="31.4" height="14"/><text x="982.6" y="256.5">.ak[Clicker]</text></g>
<g id="sm-tj-cs" class="n"><rect x="1010.25" y="247.5" width="46.5" height="14"/><text x="1033.5" y="256.5">.cs[Downloader]</text></g>
<g id="sm-tj-ek" class="n"><rect x="966.7" y="272" width="42" height="14"/><text x="987.7" y="281">.ek[Downloader]</text></g>
<g id="sm-tj-mb" class="n"><rect x="1020" y="272" width="44" height="14"/><text x="1042" y="281">.mb[Downloader]</text></g>
<g id="sm-tl-g" class="n"><rect x="1094.75" y="247.5" width="12.5" height="14"/><text x="1101" y="256.5">.g</text></g>
<g id="sm-tm-a" class="n"><rect x="1143" y="247.5" width="28" height="14"/><text x="1157" y="256.5">.a[PSW]</text></g>
<g id="sm-tm-m" class="n"><rect x="1177" y="247.5" width="37.6" height="14"/><text x="1195.8" y="256.5">.m[Dropper]</text></g>
<g id="sm-tm-w" class="n"><rect x="1220.9" y="247.5" width="45" height="14"/><text x="1243.4" y="256.5">.w[Downloader]</text></g>
<g id="sm-tm-y" class="n"><rect x="1133.05" y="272" width="13.3" height="14"/><text x="1139.7" y="281">.y</text></g>
<g id="sm-tm-aa" class="n"><rect x="1157.05" y="272" width="44.7" height="14"/><text x="1179.4" y="281">.aa[Downloader]</text></g>
<g id="sm-tm-m2" class="n"><rect x="1211.3" y="272" width="37.2" height="14"/><text x="1229.9" y="281">.m[Dropper]</text></g>
<g id="sm-ts-s" class="n"><rect x="1289" y="247.5" width="32" height="14"/><text x="1305" y="256.5">.s[Clicker]</text></g>
<g id="sm-ts-v" class="n"><rect x="1330" y="247.5" width="32" height="14"/><text x="1346" y="256.5">.v[Clicker]</text></g>
<g id="sm-tv-av" class="n"><rect x="1377.5" y="247.5" width="47" height="14"/><text x="1401" y="256.5">.av[Downloader]</text></g>
<g id="sm-tv-v" class="n"><rect x="1431.75" y="247.5" width="29.5" height="14"/><text x="1446.5" y="256.5">.v[Clicker]</text></g>
<g id="sm-tw-aae" class="n"><rect x="1495" y="247.5" width="40.6" height="14"/><text x="1515.3" y="256.5">.aae[Dropper]</text></g>
<g id="sm-tw-aap" class="n"><rect x="1543.9" y="247.5" width="40" height="14"/><text x="1546" y="256.5" style="text-anchor:start">.aap[Pro</text></g>
<g id="sm-tw-ar" class="n"><rect x="1484.45" y="272" width="25.7" height="14"/><text x="1497.3" y="281">.ar[PSW]</text></g>
<g id="sm-tw-as" class="n"><rect x="1524.8" y="272" width="25.6" height="14"/><text x="1537.6" y="281">.as[Spy]</text></g>

<!-- ===== Agent ===== -->
<g id="agent" class="n"><rect x="692.8" y="370.5" width="25" height="14"/><text x="705.3" y="379.5">Agent</text></g>
<g id="hacktool-irc-agent" class="n"><rect x="7.55" y="419" width="53.5" height="14"/><text x="34.3" y="428">Hacktool:IRC/Agent</text></g>
<g id="hacktool-java-agent" class="n"><rect x="81.05" y="419" width="56.5" height="14"/><text x="109.3" y="428">Hacktool:Java/Agent</text></g>
<g id="hacktool-msil-agent" class="n"><rect x="189.05" y="419" width="58.5" height="14"/><text x="218.3" y="428">Hacktool:MSIL/Agent</text></g>
<g id="hacktool-vbs-agent" class="n"><rect x="316.05" y="419" width="56.5" height="14"/><text x="344.3" y="428">Hacktool:VBS/Agent</text></g>
<g id="hacktool-win32-agent" class="n"><rect x="446.75" y="419" width="62.5" height="14"/><text x="478" y="428">Hacktool:Win32/Agent</text></g>
<g id="worm-bat-agent" class="n"><rect x="562.65" y="419" width="53.5" height="14"/><text x="589.4" y="428">Worm:BAT/Agent</text></g>
<g id="worm-msil-agent" class="n"><rect x="691.5" y="419" width="50" height="14"/><text x="716.5" y="428">Worm:MSIL/Agent</text></g>
<g id="worm-vbs-agent" class="n"><rect x="829.3" y="419" width="51" height="14"/><text x="854.8" y="428">Worm:VBS/Agent</text></g>
<g id="worm-win32-agent" class="n"><rect x="899.25" y="419" width="57.5" height="14"/><text x="928" y="428">Worm:Win32/Agent</text></g>
<g id="virus-win32-agent" class="n"><rect x="985.2" y="419" width="53" height="14"/><text x="1011.7" y="428">Virus:Win32/Agent</text></g>
<g id="trojan-bat-agent" class="n"><rect x="1106.65" y="419" width="53.5" height="14"/><text x="1133.4" y="428">Trojan:BAT/Agent</text></g>
<g id="trojan-dos-agent" class="n"><rect x="1181" y="419" width="52" height="14"/><text x="1207" y="428">Trojan:DOS/Agent</text></g>
<g id="trojan-generic-agent" class="n"><rect x="1258.1" y="419" width="65" height="14"/><text x="1290.6" y="428">Trojan:Generic/Agent</text></g>
<g id="ag-hi-c" class="n"><rect x="16.5" y="446" width="35" height="14"/><text x="34" y="455">.c[Flooder]</text></g>
<g id="ag-hj-c" class="n"><rect x="94.5" y="446" width="22" height="14"/><text x="105.5" y="455">.c[DoS]</text></g>
<g id="ag-hm-aa" class="n"><rect x="152.55" y="446" width="47.5" height="14"/><text x="176.3" y="455">.aa[Constructor]</text></g>
<g id="ag-hm-e" class="n"><rect x="207.55" y="446" width="26.5" height="14"/><text x="220.8" y="455">.e[Hoax]</text></g>
<g id="ag-hm-z" class="n"><rect x="242.5" y="446" width="35" height="14"/><text x="260" y="455">.z[Dropper]</text></g>
<g id="ag-hv-a" class="n"><rect x="300" y="446" width="44" height="14"/><text x="322" y="455">.a[Constructor]</text></g>
<g id="ag-hv-g" class="n"><rect x="350" y="446" width="41" height="14"/><text x="370.5" y="455">.g[Constructor]</text></g>
<g id="ag-hw-aa" class="n"><rect x="429.2" y="446" width="27" height="14"/><text x="442.7" y="455">.aa[DoS]</text></g>
<g id="ag-hw-w" class="n"><rect x="462.75" y="446" width="32.5" height="14"/><text x="479" y="455">.w[Flooder]</text></g>
<g id="ag-hw-zm" class="n"><rect x="501.75" y="446" width="29.5" height="14"/><text x="516.5" y="455">.zm[Hoax]</text></g>
<g id="ag-wb-bo" class="n"><rect x="561.75" y="446" width="37.5" height="14"/><text x="580.5" y="455">.bo[Dropper]</text></g>
<g id="ag-wb-r" class="n"><rect x="604.7" y="446" width="10" height="14"/><text x="609.7" y="455">.r</text></g>
<g id="ag-wm-aa" class="n"><rect x="656.2" y="446" width="39" height="14"/><text x="675.7" y="455">.aa[Dropper]</text></g>
<g id="ag-wm-r" class="n"><rect x="702.5" y="446" width="24" height="14"/><text x="714.5" y="455">.r[P2P]</text></g>
<g id="ag-wm-s" class="n"><rect x="732.75" y="446" width="27.5" height="14"/><text x="746.5" y="455">.s[Email]</text></g>
<g id="ag-wm-x" class="n"><rect x="766.25" y="446" width="35.5" height="14"/><text x="784" y="455">.x[Dropper]</text></g>
<g id="ag-wv-hf" class="n"><rect x="830" y="446" width="14" height="14"/><text x="837" y="455">.hf</text></g>
<g id="ag-wv-k" class="n"><rect x="850.5" y="446" width="31" height="14"/><text x="866" y="455">.k[Email]</text></g>
<g id="ag-ww-a" class="n"><rect x="907.5" y="446" width="13" height="14"/><text x="914" y="455">.a</text></g>
<g id="ag-ww-zx" class="n"><rect x="928" y="446" width="17" height="14"/><text x="936.5" y="455">.zx</text></g>
<g id="ag-vw-at" class="n"><rect x="971.65" y="446" width="13.5" height="14"/><text x="978.4" y="455">.at</text></g>
<g id="ag-vw-ce" class="n"><rect x="989.7" y="446" width="45" height="14"/><text x="1012.2" y="455">.ce[Downloader]</text></g>
<g id="ag-vw-z" class="n"><rect x="1039.2" y="446" width="45" height="14"/><text x="1061.7" y="455">.z[Downloader]</text></g>
<g id="ag-tb-a" class="n"><rect x="1111.65" y="446" width="13.5" height="14"/><text x="1118.4" y="455">.a</text></g>
<g id="ag-tb-as" class="n"><rect x="1139.2" y="446" width="15" height="14"/><text x="1146.7" y="455">.as</text></g>
<g id="ag-td-d" class="n"><rect x="1199.2" y="446" width="15" height="14"/><text x="1206.7" y="455">.d</text></g>
<g id="ag-tg-cfcl" class="n"><rect x="1256.3" y="446" width="18" height="14"/><text x="1265.3" y="455">.cfcl</text></g>
<g id="ag-tg-mw" class="n"><rect x="1290.5" y="446" width="40" height="14"/><text x="1310.5" y="455">.mw[Dropper]</text></g>

<!-- ===== Seedabutor ===== -->
<g id="seedabutor" class="n"><rect x="1417" y="370.5" width="34" height="14"/><text x="1434" y="379.5">Seedabutor</text></g>
<g id="trojan-js-seedabutor" class="n"><rect x="1404" y="404.5" width="60" height="14"/><text x="1434" y="413.5">Trojan:JS/Seedabutor</text></g>
<g id="see-b" class="n"><rect x="1407" y="437.5" width="14" height="14"/><text x="1414" y="446.5">.B</text></g>
<g id="see-c" class="n"><rect x="1427" y="437.5" width="14" height="14"/><text x="1434" y="446.5">.C</text></g>
<g id="see-a" class="n"><rect x="1447" y="437.5" width="14" height="14"/><text x="1454" y="446.5">.A</text></g>

<!-- ===== Qhost ===== -->
<g id="qhost" class="n"><rect x="570" y="507" width="24" height="14"/><text x="582" y="516">Qhost</text></g>
<g id="worm-bat-qhost" class="n"><rect x="7.55" y="536" width="52.5" height="14"/><text x="33.8" y="545">Worm:BAT/Qhost</text></g>
<g id="trojan-rar-qhost" class="n"><rect x="90" y="536" width="60" height="14"/><text x="120" y="545">Trojan:RAR/Qhost</text></g>
<g id="trojan-bat-qhost" class="n"><rect x="236.7" y="536" width="56" height="14"/><text x="264.7" y="545">Trojan:BAT/Qhost</text></g>
<g id="trojan-java-qhost" class="n"><rect x="372" y="536" width="54" height="14"/><text x="399" y="545">Trojan:Java/Qhost</text></g>
<g id="trojan-dos-qhost" class="n"><rect x="446.8" y="536" width="55" height="14"/><text x="474.3" y="545">Trojan:DOS/Qhost</text></g>
<g id="trojan-msil-qhost" class="n"><rect x="554.6" y="536" width="54" height="14"/><text x="581.6" y="545">Trojan:MSIL/Qhost</text></g>
<g id="trojan-nsis-qhost" class="n"><rect x="697.9" y="536" width="55" height="14"/><text x="725.4" y="545">Trojan:NSIS/Qhost</text></g>
<g id="trojan-php-qhost" class="n"><rect x="803.8" y="536" width="52" height="14"/><text x="829.8" y="545">Trojan:PHP/Qhost</text></g>
<g id="trojan-vbs-qhost" class="n"><rect x="888.3" y="536" width="55" height="14"/><text x="915.8" y="545">Trojan:VBS/Qhost</text></g>
<g id="trojan-win32-qhost" class="n"><rect x="1015" y="536" width="62" height="14"/><text x="1046" y="545">Trojan:Win32/Qhost</text></g>
<g id="qh-wb-d" class="n"><rect x="26.75" y="570" width="12.5" height="14"/><text x="33" y="579">.d</text></g>
<g id="qh-tr-a" class="n"><rect x="76" y="570" width="44" height="14"/><text x="98" y="579">.a[Downloader]</text></g>
<g id="qh-tr-c" class="n"><rect x="125" y="570" width="12" height="14"/><text x="131" y="579">.c</text></g>
<g id="qh-tr-d" class="n"><rect x="142.55" y="570" width="12.5" height="14"/><text x="148.8" y="579">.d</text></g>
<g id="qh-tb-ab" class="n"><rect x="194.1" y="570" width="35" height="14"/><text x="211.6" y="579">.ab[Banker]</text></g>
<g id="qh-tb-af" class="n"><rect x="232.5" y="570" width="43" height="14"/><text x="254" y="579">.af[Downloader]</text></g>
<g id="qh-tb-b" class="n"><rect x="280.2" y="570" width="29" height="14"/><text x="294.7" y="579">.b[PSW]</text></g>
<g id="qh-tb-fd" class="n"><rect x="314.25" y="570" width="33.5" height="14"/><text x="331" y="579">.fd[Dropper]</text></g>
<g id="qh-tj-d" class="n"><rect x="382.5" y="570" width="32" height="14"/><text x="398.5" y="579">.d[Banker]</text></g>
<g id="qh-td-ae" class="n"><rect x="453.5" y="570" width="16" height="14"/><text x="461.5" y="579">.ae</text></g>
<g id="qh-td-ap" class="n"><rect x="483.3" y="570" width="18" height="14"/><text x="492.3" y="579">.ap</text></g>
<g id="qh-tm-aa" class="n"><rect x="541" y="570" width="14" height="14"/><text x="548" y="579">.aa</text></g>
<g id="qh-tm-aaa" class="n"><rect x="565.25" y="570" width="37.5" height="14"/><text x="584" y="579">.aaa[Dropper]</text></g>
<g id="qh-tm-bi" class="n"><rect x="617.85" y="570" width="23.5" height="14"/><text x="629.6" y="579">.bi[Spy]</text></g>
<g id="qh-tm-ev" class="n"><rect x="550.3" y="590" width="36" height="14"/><text x="568.3" y="599">.ev[Virtool]</text></g>
<g id="qh-tm-zz" class="n"><rect x="590.25" y="590" width="37.5" height="14"/><text x="609" y="599">.zz[Dropper]</text></g>
<g id="qh-tn-a" class="n"><rect x="686.4" y="570" width="34" height="14"/><text x="703.4" y="579">.a[Dropper]</text></g>
<g id="qh-tn-b" class="n"><rect x="728.5" y="570" width="35" height="14"/><text x="746" y="579">.b[Dropper]</text></g>
<g id="qh-tp-f" class="n"><rect x="813.3" y="570" width="12" height="14"/><text x="819.3" y="579">.f</text></g>
<g id="qh-tp-g" class="n"><rect x="834.25" y="570" width="13.5" height="14"/><text x="841" y="579">.g</text></g>
<g id="qh-tv-p" class="n"><rect x="897" y="570" width="13" height="14"/><text x="903.5" y="579">.p</text></g>
<g id="qh-tv-q" class="n"><rect x="917" y="570" width="13" height="14"/><text x="923.5" y="579">.q</text></g>
<g id="qh-tw-aabt" class="n"><rect x="980.5" y="570" width="20" height="14"/><text x="990.5" y="579">.aabt</text></g>
<g id="qh-tw-jq" class="n"><rect x="1005.5" y="570" width="45" height="14"/><text x="1028" y="579">.jq[Downloader]</text></g>
<g id="qh-tw-jr" class="n"><rect x="1054.25" y="570" width="33.5" height="14"/><text x="1071" y="579">.jr[Banker]</text></g>
<g id="qh-tw-pk" class="n"><rect x="1093.5" y="570" width="28" height="14"/><text x="1107.5" y="579">.pk[Spy]</text></g>
<g id="qh-tw-swv" class="n"><rect x="1128.25" y="570" width="19.5" height="14"/><text x="1138" y="579">.swv]</text></g>

<!-- ===== Dorkbot ===== -->
<g id="dorkbot" class="n"><rect x="1279" y="507" width="30" height="14"/><text x="1294" y="516">Dorkbot</text></g>
<g id="worm-win32-dorkbot" class="n"><rect x="1263" y="536" width="62" height="14"/><text x="1294" y="545">Worm:Win32/Dorkbot</text></g>
<g id="dk-ak" class="n"><rect x="1222.5" y="570" width="17" height="14"/><text x="1231" y="579">.AK</text></g>
<g id="dk-i" class="n"><rect x="1246" y="570" width="12" height="14"/><text x="1252" y="579">.I</text></g>
<g id="dk-as" class="n"><rect x="1265.25" y="570" width="17.5" height="14"/><text x="1274" y="579">.AS</text></g>
<g id="dk-a" class="n"><rect x="1289.3" y="570" width="14" height="14"/><text x="1296.3" y="579">.A</text></g>
<g id="dk-am" class="n"><rect x="1309.25" y="570" width="19.5" height="14"/><text x="1319" y="579">.AM</text></g>
<g id="dk-gen" class="n"><rect x="1333.25" y="570" width="19.5" height="14"/><text x="1343" y="579">.gen</text></g>
<g id="dk-t" class="n"><rect x="1358.75" y="570" width="12.5" height="14"/><text x="1365" y="579">.T</text></g>

<!-- ===== Starter ===== -->
<g id="starter" class="n"><rect x="1459.8" y="507" width="27" height="14"/><text x="1473.3" y="516">Starter</text></g>
<g id="trojan-win32-starter" class="n"><rect x="1443" y="536" width="60" height="14"/><text x="1473" y="545">Trojan:Win32/Starter</text></g>
<g id="st-a" class="n"><rect x="1401.75" y="570" width="12.5" height="14"/><text x="1408" y="579">.a</text></g>
<g id="st-aab" class="n"><rect x="1420.5" y="570" width="41" height="14"/><text x="1441" y="579">.aab[Dropper]</text></g>
<g id="st-dd" class="n"><rect x="1469" y="570" width="46" height="14"/><text x="1492" y="579">.dd[Downloader]</text></g>
<g id="st-fs" class="n"><rect x="1528" y="570" width="24" height="14"/><text x="1540" y="579">.fs[PSW]</text></g>
<g id="st-fn" class="n"><rect x="1406.45" y="590" width="27.5" height="14"/><text x="1420.2" y="599">.fn[Spy]</text></g>
<g id="st-lgb" class="n"><rect x="1456.5" y="590" width="19" height="14"/><text x="1466" y="599">.lgb</text></g>
<g id="st-zw" class="n"><rect x="1510.5" y="590" width="17" height="14"/><text x="1519" y="599">.zw</text></g>

<!-- ===== Ramnit ===== -->
<g id="ramnit" class="n"><rect x="330" y="614" width="27" height="14"/><text x="343.5" y="623">Ramnit</text></g>
<g id="virus-win32-ramnit" class="n"><rect x="41.5" y="643.5" width="58" height="14"/><text x="70.5" y="652.5">Virus:Win32/Ramnit</text></g>
<g id="trojan-win32-ramnit" class="n"><rect x="169" y="643.5" width="60" height="14"/><text x="199" y="652.5">Trojan:Win32/Ramnit</text></g>
<g id="trojan-winnt-ramnit" class="n"><rect x="262.5" y="643.5" width="65" height="14"/><text x="295" y="652.5">Trojan:WinNT/Ramnit</text></g>
<g id="virus-vbs-ramnit" class="n"><rect x="360.25" y="643.5" width="53.5" height="14"/><text x="387" y="652.5">Virus:VBS/Ramnit</text></g>
<g id="trojan-dos-ramnit" class="n"><rect x="448.8" y="643.5" width="55" height="14"/><text x="476.3" y="652.5">Trojan:DOS/Ramnit</text></g>
<g id="worm-win32-ramnit" class="n"><rect x="522.85" y="643.5" width="57.5" height="14"/><text x="551.6" y="652.5">Worm:Win32/Ramnit</text></g>
<g id="trojan-inf-ramnit" class="n"><rect x="599.4" y="643.5" width="50" height="14"/><text x="624.4" y="652.5">Trojan:Inf/Ramnit</text></g>
<g id="ra-vw-g" class="n"><rect x="10" y="672.5" width="14" height="14"/><text x="17" y="681.5">.G</text></g>
<g id="ra-vw-af" class="n"><rect x="28.5" y="672.5" width="18" height="14"/><text x="37.5" y="681.5">.AF</text></g>
<g id="ra-vw-z" class="n"><rect x="51.05" y="672.5" width="12.5" height="14"/><text x="57.3" y="681.5">.Z</text></g>
<g id="ra-vw-gen" class="n"><rect x="70.75" y="672.5" width="18.5" height="14"/><text x="80" y="681.5">.gen</text></g>
<g id="ra-vw-r" class="n"><rect x="96.8" y="672.5" width="12" height="14"/><text x="102.8" y="681.5">.R</text></g>
<g id="ra-vw-a" class="n"><rect x="115.8" y="672.5" width="13" height="14"/><text x="122.3" y="681.5">.A</text></g>
<g id="ra-tw-c" class="n"><rect x="161" y="672.5" width="13" height="14"/><text x="167.5" y="681.5">.C</text></g>
<g id="ra-tw-gen" class="n"><rect x="179.25" y="672.5" width="17.5" height="14"/><text x="188" y="681.5">.gen</text></g>
<g id="ra-tw-d" class="n"><rect x="204.25" y="672.5" width="13.5" height="14"/><text x="211" y="681.5">.D</text></g>
<g id="ra-tw-a" class="n"><rect x="222.75" y="672.5" width="12.5" height="14"/><text x="229" y="681.5">.A</text></g>
<g id="ra-tn-gen" class="n"><rect x="283.25" y="672.5" width="18.5" height="14"/><text x="292.5" y="681.5">.gen</text></g>
<g id="ra-vv-gen" class="n"><rect x="345.25" y="672.5" width="18.5" height="14"/><text x="354.5" y="681.5">.gen</text></g>
<g id="ra-vv-c" class="n"><rect x="368" y="672.5" width="14" height="14"/><text x="375" y="681.5">.C</text></g>
<g id="ra-vv-f" class="n"><rect x="385.5" y="672.5" width="13" height="14"/><text x="392" y="681.5">.F</text></g>
<g id="ra-vv-d" class="n"><rect x="402.5" y="672.5" width="13" height="14"/><text x="409" y="681.5">.D</text></g>
<g id="ra-vv-a" class="n"><rect x="418.75" y="672.5" width="13.5" height="14"/><text x="425.5" y="681.5">.A</text></g>
<g id="ra-td-a" class="n"><rect x="469.25" y="672.5" width="13.5" height="14"/><text x="476" y="681.5">.A</text></g>
<g id="ra-ww-a" class="n"><rect x="531.75" y="672.5" width="13.5" height="14"/><text x="538.5" y="681.5">.A</text></g>
<g id="ra-ww-b" class="n"><rect x="552" y="672.5" width="14" height="14"/><text x="559" y="681.5">.B</text></g>
<g id="ra-ti-a" class="n"><rect x="617.85" y="672.5" width="13.5" height="14"/><text x="624.6" y="681.5">.A</text></g>

<!-- ===== Subseven ===== -->
<g id="subseven" class="n"><rect x="867.5" y="614" width="31" height="14"/><text x="883" y="623">Subseven</text></g>
<g id="trojan-win32-subseven" class="n"><rect x="849" y="643.5" width="66" height="14"/><text x="882" y="652.5">Trojan:Win32/Subseven</text></g>
<g id="sub-11" class="n"><rect x="741.75" y="672.5" width="14.5" height="14"/><text x="749" y="681.5">.11</text></g>
<g id="sub-19" class="n"><rect x="766.25" y="672.5" width="14.5" height="14"/><text x="773.5" y="681.5">.19</text></g>
<g id="sub-21" class="n"><rect x="790.75" y="672.5" width="14.5" height="14"/><text x="798" y="681.5">.21</text></g>
<g id="sub-22" class="n"><rect x="815" y="672.5" width="15" height="14"/><text x="822.5" y="681.5">.22</text></g>
<g id="sub-22d" class="n"><rect x="839" y="672.5" width="40" height="14"/><text x="859" y="681.5">.22[Dropper]</text></g>
<g id="sub-avo" class="n"><rect x="889" y="672.5" width="18" height="14"/><text x="898" y="681.5">.avo</text></g>
<g id="sub-avq" class="n"><rect x="912.5" y="672.5" width="19" height="14"/><text x="922" y="681.5">.avq</text></g>
<g id="sub-avr" class="n"><rect x="937.5" y="672.5" width="18" height="14"/><text x="946.5" y="681.5">.avr</text></g>
<g id="sub-avs" class="n"><rect x="961.5" y="672.5" width="19" height="14"/><text x="971" y="681.5">.avs</text></g>
<g id="sub-awk" class="n"><rect x="986.25" y="672.5" width="19.5" height="14"/><text x="996" y="681.5">.awk</text></g>
<g id="sub-c" class="n"><rect x="1011.25" y="672.5" width="10.5" height="14"/><text x="1016.5" y="681.5">.c</text></g>

<!-- ===== Flame ===== -->
<g id="flame" class="n"><rect x="79.5" y="726.5" width="22" height="14"/><text x="90.5" y="735.5">Flame</text></g>
<g id="worm-win32-flame" class="n"><rect x="61.5" y="751.5" width="58" height="14"/><text x="90.5" y="760.5">Worm:Win32/Flame</text></g>
<g id="fl-a" class="n"><rect x="57.5" y="786" width="13" height="14"/><text x="64" y="795">.a</text></g>
<g id="fl-b" class="n"><rect x="83" y="786" width="13" height="14"/><text x="89.5" y="795">.b</text></g>
<g id="fl-gen" class="n"><rect x="105.5" y="786" width="19" height="14"/><text x="115" y="795">.gen</text></g>

<!-- ===== Codered ===== -->
<g id="codered" class="n"><rect x="228.5" y="726.5" width="28" height="14"/><text x="242.5" y="735.5">Codered</text></g>
<g id="worm-win32-codered" class="n"><rect x="211.5" y="751.5" width="62" height="14"/><text x="242.5" y="760.5">Worm:Win32/Codered</text></g>
<g id="cr-aa" class="n"><rect x="194" y="786" width="30" height="14"/><text x="209" y="795">.aa[NET]</text></g>
<g id="cr-c" class="n"><rect x="228.5" y="787.5" width="27" height="14"/><text x="242" y="796.5">.c[NET]</text></g>
<g id="cr-z" class="n"><rect x="262.75" y="786" width="26.5" height="14"/><text x="276" y="795">.z[NET]</text></g>

<!-- ===== Sasser ===== -->
<g id="sasser" class="n"><rect x="463" y="726.5" width="23" height="14"/><text x="474.5" y="735.5">Sasser</text></g>
<g id="worm-win32-sasser" class="n"><rect x="447.5" y="751.5" width="57" height="14"/><text x="476" y="760.5">Worm:Win32/Sasser</text></g>
<g id="sa-aa" class="n"><rect x="360" y="786" width="30" height="14"/><text x="375" y="795">.aa[NET]</text></g>
<g id="sa-a" class="n"><rect x="394.25" y="786" width="27.5" height="14"/><text x="408" y="795">.a[NET]</text></g>
<g id="sa-c" class="n"><rect x="428.75" y="786" width="27.5" height="14"/><text x="442.5" y="795">.c[NET]</text></g>
<g id="sa-d" class="n"><rect x="462.75" y="786" width="27.5" height="14"/><text x="476.5" y="795">.d[NET]</text></g>
<g id="sa-gen" class="n"><rect x="496.25" y="786" width="32.5" height="14"/><text x="512.5" y="795">.gen[NET]</text></g>
<g id="sa-g" class="n"><rect x="531.25" y="786" width="27.5" height="14"/><text x="545" y="795">.g[NET]</text></g>
<g id="sa-z" class="n"><rect x="565.25" y="786" width="27.5" height="14"/><text x="579" y="795">.z[NET]</text></g>

<!-- ===== Gauss ===== -->
<g id="gauss" class="n"><rect x="922.5" y="761" width="23" height="14"/><text x="934" y="770">Gauss</text></g>
<g id="trojan-win32-gauss" class="n"><rect x="905" y="790.5" width="58" height="14"/><text x="934" y="799.5">Trojan:Win32/Gauss</text></g>
<g id="ga-dskapi" class="n"><rect x="790.5" y="829.5" width="39" height="14"/><text x="810" y="838.5">.dsKapi[Spy]</text></g>
<g id="ga-smdk" class="n"><rect x="838.5" y="829.5" width="35" height="14"/><text x="856" y="838.5">.smdk[Spy]</text></g>
<g id="ga-lanhlp" class="n"><rect x="888" y="829.5" width="40" height="14"/><text x="908" y="838.5">.lanhlp[Spy]</text></g>
<g id="ga-windig" class="n"><rect x="937.25" y="829.5" width="39.5" height="14"/><text x="957" y="838.5">.Windig[Spy]</text></g>
<g id="ga-mcdmn" class="n"><rect x="986.25" y="829.5" width="40.5" height="14"/><text x="1006.5" y="838.5">.mcdmn[Spy]</text></g>
<g id="ga-winshell" class="n"><rect x="1034.75" y="829.5" width="42.5" height="14"/><text x="1056" y="838.5">.Winshell[Spy]</text></g>

<!-- ===== Duqu ===== -->
<g id="duqu" class="n"><rect x="1148" y="761" width="21" height="14"/><text x="1158.5" y="770">Duqu</text></g>
<g id="trojan-win32-duqu" class="n"><rect x="1130" y="790.5" width="57" height="14"/><text x="1158.5" y="799.5">Trojan:Win32/Duqu</text></g>
<g id="du-f" class="n"><rect x="1153" y="819" width="11" height="14"/><text x="1158.5" y="828">.f</text></g>

<!-- ===== Fareit ===== -->
<g id="fareit" class="n"><rect x="1366" y="761" width="24" height="14"/><text x="1378" y="770">Fareit</text></g>
<g id="trojan-win32-fareit" class="n"><rect x="1349" y="790.5" width="58" height="14"/><text x="1378" y="799.5">Trojan:Win32/Fareit</text></g>
<g id="fa-ahf" class="n"><rect x="1279.5" y="829.5" width="33" height="14"/><text x="1296" y="838.5">.ahf[PSW]</text></g>
<g id="fa-hs" class="n"><rect x="1324" y="829.5" width="30" height="14"/><text x="1339" y="838.5">.hs[PSW]</text></g>
<g id="fa-jo" class="n"><rect x="1367.25" y="829.5" width="30.5" height="14"/><text x="1382.5" y="838.5">.jo[PSW]</text></g>
<g id="fa-pk" class="n"><rect x="1411.25" y="829.5" width="31.5" height="14"/><text x="1427" y="838.5">.pk[PSW]</text></g>
<g id="fa-qj" class="n"><rect x="1456.25" y="829.5" width="28.5" height="14"/><text x="1470.5" y="838.5">.qj[PSW]</text></g>

<!-- ===== Conficker ===== -->
<g id="conficker" class="n"><rect x="65.5" y="907" width="29" height="14"/><text x="80" y="916">Conficker</text></g>
<g id="worm-win32-conficker" class="n"><rect x="47.5" y="936.5" width="64" height="14"/><text x="79.5" y="945.5">Worm:Win32/Conficker</text></g>
<g id="cf-a" class="n"><rect x="23" y="980.5" width="14" height="14"/><text x="30" y="989.5">.A</text></g>
<g id="cf-b" class="n"><rect x="47.5" y="980.5" width="14" height="14"/><text x="54.5" y="989.5">.B</text></g>
<g id="cf-c" class="n"><rect x="71.5" y="980.5" width="14" height="14"/><text x="78.5" y="989.5">.C</text></g>
<g id="cf-d" class="n"><rect x="96" y="980.5" width="14" height="14"/><text x="103" y="989.5">.D</text></g>
<g id="cf-e" class="n"><rect x="120.3" y="980.5" width="14" height="14"/><text x="127.3" y="989.5">.E</text></g>

<!-- ===== Sirefef ===== -->
<g id="sirefef" class="n"><rect x="219" y="907" width="23" height="14"/><text x="230.5" y="916">Sirefef</text></g>
<g id="trojan-win32-sirefef" class="n"><rect x="201.5" y="936.5" width="59" height="14"/><text x="231" y="945.5">Trojan:Win32/Sirefef</text></g>
<g id="si-a" class="n"><rect x="224.5" y="967" width="12" height="14"/><text x="230.5" y="976">.a</text></g>

<!-- ===== Gamarue ===== -->
<g id="gamarue" class="n"><rect x="335.5" y="907" width="30" height="14"/><text x="350.5" y="916">Gamarue</text></g>
<g id="worm-win32-gamarue" class="n"><rect x="320" y="936.5" width="64" height="14"/><text x="352" y="945.5">Worm:Win32/Gamarue</text></g>
<g id="gm-aa" class="n"><rect x="311.4" y="967" width="16" height="14"/><text x="319.4" y="976">.aa</text></g>
<g id="gm-abl" class="n"><rect x="331.5" y="967" width="17" height="14"/><text x="340" y="976">.abl</text></g>
<g id="gm-cnld" class="n"><rect x="351.25" y="967" width="19.5" height="14"/><text x="361" y="976">.cnld</text></g>
<g id="gm-ahpw" class="n"><rect x="375.25" y="967" width="22.5" height="14"/><text x="386.5" y="976">.ahpw</text></g>

<!-- ===== BlacoleRef ===== -->
<g id="blacoleref" class="n"><rect x="507.5" y="907" width="33" height="14"/><text x="524" y="916">BlacoleRef</text></g>
<g id="trojan-js-blacoleref" class="n"><rect x="493" y="936.5" width="60" height="14"/><text x="523" y="945.5">Trojan:JS/BlacoleRef</text></g>
<g id="bl-w" class="n"><rect x="433.75" y="967" width="15.5" height="14"/><text x="441.5" y="976">.W</text></g>
<g id="bl-a" class="n"><rect x="453.25" y="967" width="14.5" height="14"/><text x="460.5" y="976">.A</text></g>
<g id="bl-df" class="n"><rect x="472.75" y="967" width="17.5" height="14"/><text x="481.5" y="976">.DF</text></g>
<g id="bl-cm" class="n"><rect x="495.25" y="967" width="17.5" height="14"/><text x="504" y="976">.CM</text></g>
<g id="bl-ap" class="n"><rect x="515.25" y="967" width="18.5" height="14"/><text x="524.5" y="976">.AP</text></g>
<g id="bl-cw" class="n"><rect x="540.3" y="967" width="19" height="14"/><text x="549.8" y="976">.CW</text></g>
<g id="bl-ct" class="n"><rect x="563.4" y="967" width="18" height="14"/><text x="572.4" y="976">.CT</text></g>
<g id="bl-dh" class="n"><rect x="585.35" y="967" width="18.5" height="14"/><text x="594.6" y="976">.DH</text></g>
<g id="bl-cl" class="n"><rect x="609.4" y="967" width="18" height="14"/><text x="618.4" y="976">.CL</text></g>

<!-- ===== Boaxxe ===== -->
<g id="boaxxe" class="n"><rect x="863" y="907.5" width="27" height="14"/><text x="876.5" y="916.5">Boaxxe</text></g>
<g id="trojan-win32-boaxxe" class="n"><rect x="846" y="942" width="62" height="14"/><text x="877" y="951">Trojan:Win32/Boaxxe</text></g>
<g id="bo-aa" class="n"><rect x="775.5" y="976" width="46" height="14"/><text x="798.5" y="985">.aa[Downloader]</text></g>
<g id="bo-ab" class="n"><rect x="825.3" y="976" width="38" height="14"/><text x="844.3" y="985">.ab[Dropper]</text></g>
<g id="bo-cv" class="n"><rect x="869.2" y="976" width="46" height="14"/><text x="892.2" y="985">.cv[Downloader]</text></g>
<g id="bo-n" class="n"><rect x="918.2" y="976" width="36" height="14"/><text x="936.2" y="985">.n[Dropper]</text></g>
<g id="bo-z" class="n"><rect x="961.25" y="976" width="43.5" height="14"/><text x="983" y="985">.z[Downloader]</text></g>

<!-- ===== Stuxnet ===== -->
<g id="stuxnet" class="n"><rect x="1269.5" y="907.5" width="27" height="14"/><text x="1283" y="916.5">Stuxnet</text></g>
<g id="trojan-win32-stuxnet" class="n"><rect x="1253" y="942" width="62" height="14"/><text x="1284" y="951">Trojan:Win32/Stuxnet</text></g>
<g id="sx-aa" class="n"><rect x="1158.2" y="976" width="37" height="14"/><text x="1176.7" y="985">.aa[Dropper]</text></g>
<g id="sx-c" class="n"><rect x="1206.5" y="976" width="35" height="14"/><text x="1224" y="985">.c[Dropper]</text></g>
<g id="sx-e" class="n"><rect x="1255.15" y="976" width="12.5" height="14"/><text x="1261.4" y="985">.e</text></g>
<g id="sx-f" class="n"><rect x="1280" y="976" width="34" height="14"/><text x="1297" y="985">.f[Dropper]</text></g>
<g id="sx-k" class="n"><rect x="1323.8" y="976" width="35" height="14"/><text x="1341.3" y="985">.k[Dropper]</text></g>
<g id="sx-m" class="n"><rect x="1367.5" y="976" width="15" height="14"/><text x="1375" y="985">.m</text></g>
<g id="sx-y" class="n"><rect x="1397.05" y="976" width="35.5" height="14"/><text x="1414.8" y="985">.y[Dropper]</text></g>
</g>
</svg>
